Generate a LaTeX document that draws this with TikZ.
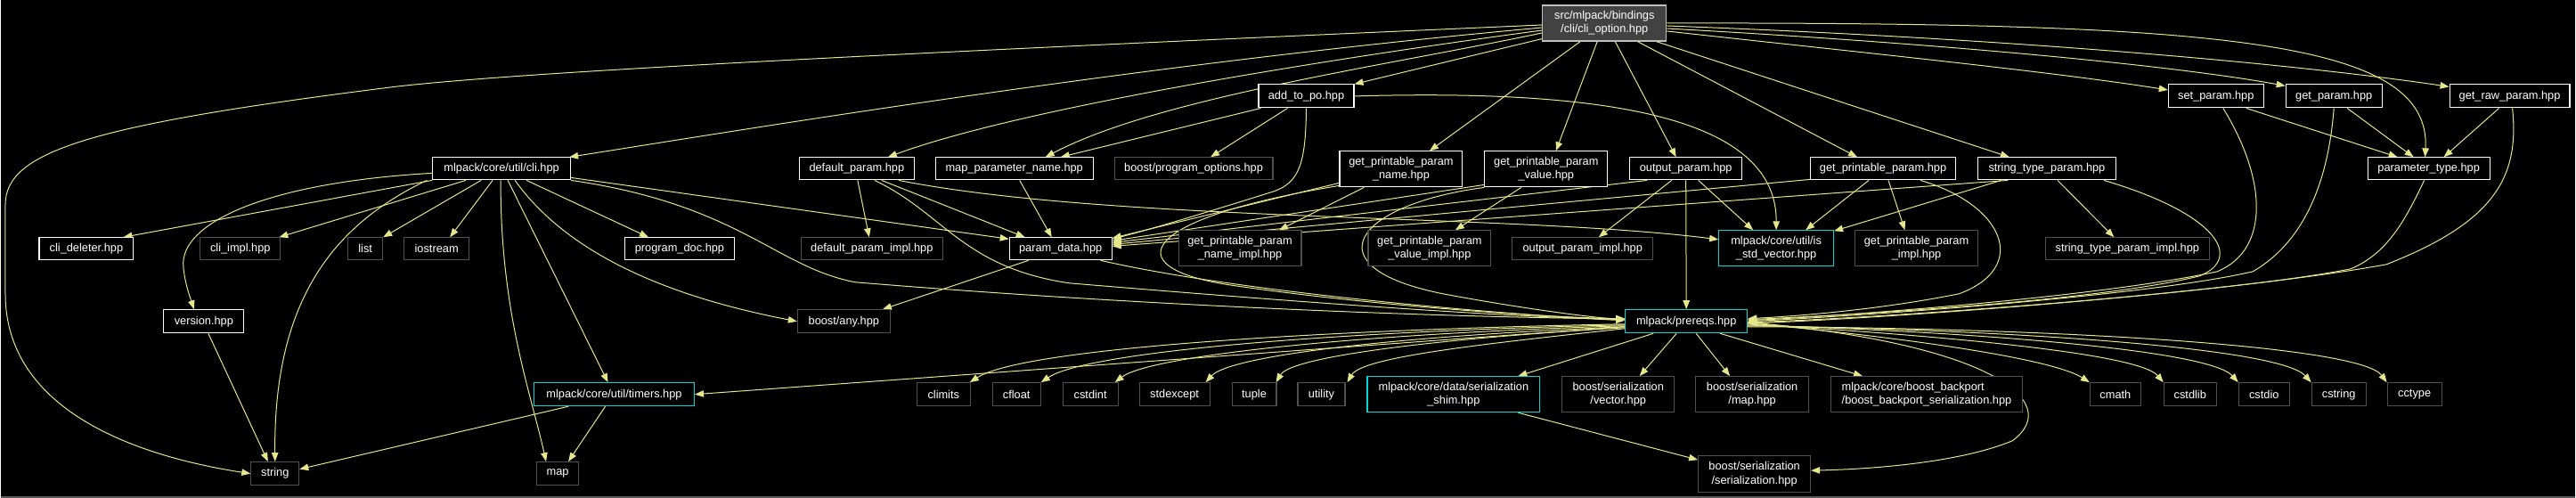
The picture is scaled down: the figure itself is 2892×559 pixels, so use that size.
\documentclass[tikz,border=0pt]{standalone}
\usepackage{fontspec}
\setmainfont{Liberation Sans}
\usetikzlibrary{arrows.meta,calc}
\definecolor{edgec}{RGB}{230,230,140}
\definecolor{extg}{RGB}{80,80,80}
\definecolor{rootf}{RGB}{66,66,66}
\definecolor{rootb}{RGB}{191,191,191}
\definecolor{cyanb}{RGB}{0,215,215}
\definecolor{frameg}{RGB}{90,90,90}
\pgfdeclarelayer{back}
\pgfdeclarelayer{bg}
\pgfsetlayers{back,bg,main}
\begin{document}
\begin{tikzpicture}[x=1pt,y=-1pt,
  base/.style={rectangle, fill=black, text=white, inner sep=0pt, line width=1.1pt, align=center, font=\fontsize{12.8}{15.3}\selectfont},
  doc/.style={base, draw=white},
  ext/.style={base, draw=extg},
  cyn/.style={base, draw=cyanb},
  root/.style={base, draw=rootb, fill=rootf},
  sz/.style 2 args={minimum width=#1, minimum height=#2},
  e/.style={draw=edgec, line width=1pt, -{Triangle[length=10pt,width=7.5pt]}},
]
\begin{pgfonlayer}{back}
\fill[black] (0,0) rectangle (2892,559);
\draw[frameg, line width=2pt] (0,558) -- (2892,558);
\end{pgfonlayer}
\useasboundingbox (0,0) rectangle (2892,559);

% row 1
\node[root, sz={139}{40}] (co) at (1801.5,26) {src/mlpack/bindings\\/cli/cli\_option.hpp};
\node[doc, sz={107}{26}] (atp) at (1466.5,108) {add\_to\_po.hpp};
\node[doc, sz={107}{26}] (sp) at (2488.5,108) {set\_param.hpp};
\node[doc, sz={108}{26}] (gp) at (2621,108) {get\_param.hpp};
\node[doc, sz={135}{26}] (grp) at (2818.5,108) {get\_raw\_param.hpp};
% row 2
\node[doc, sz={155}{25}] (cli) at (562.5,189.5) {mlpack/core/util/cli.hpp};
\node[doc, sz={129}{25}] (dp) at (961.5,189.5) {default\_param.hpp};
\node[doc, sz={177}{25}] (mpn) at (1138.5,189.5) {map\_parameter\_name.hpp};
\node[ext, sz={178}{25}] (bpo) at (1340,189.5) {boost/program\_options.hpp};
\node[doc, sz={138}{40}] (gppn) at (1573,190) {get\_printable\_param\\\_name.hpp};
\node[doc, sz={138}{40}] (gppv) at (1736,190) {get\_printable\_param\\\_value.hpp};
\node[doc, sz={126}{25}] (op) at (1893,189.5) {output\_param.hpp};
\node[doc, sz={163}{25}] (gpp) at (2114.5,189.5) {get\_printable\_param.hpp};
\node[doc, sz={155}{25}] (stp) at (2298.5,189.5) {string\_type\_param.hpp};
\node[doc, sz={137}{25}] (ptype) at (2727.5,189.5) {parameter\_type.hpp};
% row 3
\node[doc, sz={106}{25}] (cld) at (96,279.5) {cli\_deleter.hpp};
\node[ext, sz={90}{25}] (clim) at (269,279.5) {cli\_impl.hpp};
\node[ext, sz={39}{25}] (lst) at (409.5,279.5) {list};
\node[ext, sz={73}{25}] (ios) at (489.5,279.5) {iostream};
\node[doc, sz={123}{25}] (pdoc) at (762.5,279.5) {program\_doc.hpp};
\node[ext, sz={159}{25}] (dpi) at (978.5,279.5) {default\_param\_impl.hpp};
\node[doc, sz={115}{25}] (pd) at (1190.5,279.5) {param\_data.hpp};
\node[ext, sz={138}{40}] (gppni) at (1392,279) {get\_printable\_param\\\_name\_impl.hpp};
\node[ext, sz={138}{40}] (gppvi) at (1605,279) {get\_printable\_param\\\_value\_impl.hpp};
\node[ext, sz={158}{25}] (opi) at (1777,279.5) {output\_param\_impl.hpp};
\node[cyn, sz={129}{40}] (isv) at (1994.5,279) {mlpack/core/util/is\\\_std\_vector.hpp};
\node[ext, sz={138}{40}] (gppi) at (2152,279) {get\_printable\_param\\\_impl.hpp};
\node[ext, sz={184}{25}] (stpi) at (2389,279.5) {string\_type\_param\_impl.hpp};
% row 4
\node[doc, sz={90}{26}] (ver) at (228,361) {version.hpp};
\node[ext, sz={104}{26}] (any) at (947,361) {boost/any.hpp};
\node[cyn, sz={137}{26}] (pre) at (1893.5,361) {mlpack/prereqs.hpp};
% row 5
\node[cyn, sz={180}{26}] (tim) at (689,443) {mlpack/core/util/timers.hpp};
\node[ext, sz={60}{26}] (climits) at (1059,443) {climits};
\node[ext, sz={54}{26}] (cfloat) at (1141,443) {cfloat};
\node[ext, sz={62}{26}] (cstdint) at (1224,443) {cstdint};
\node[ext, sz={79}{26}] (stdexc) at (1318.5,443) {stdexcept};
\node[ext, sz={50}{26}] (tpl) at (1408,443) {tuple};
\node[ext, sz={53}{26}] (util) at (1483.5,443) {utility};
\node[cyn, sz={194}{40}] (shim) at (1632,443) {mlpack/core/data/serialization\\\_shim.hpp};
\node[ext, sz={126}{40}] (bsv) at (1817,443) {boost/serialization\\/vector.hpp};
\node[ext, sz={127}{40}] (bsm) at (1967.5,443) {boost/serialization\\/map.hpp};
\node[ext, sz={215}{40}, align=left] (bp) at (2163.5,443) {mlpack/core/boost\_backport\\/boost\_backport\_serialization.hpp};
\node[ext, sz={57}{26}] (cmath) at (2375.5,443) {cmath};
\node[ext, sz={59}{26}] (cstdlib) at (2459.5,443) {cstdlib};
\node[ext, sz={57}{26}] (cstdio) at (2542.5,443) {cstdio};
\node[ext, sz={61}{26}] (cstring) at (2626.5,443) {cstring};
\node[ext, sz={61}{26}] (cctype) at (2711.5,443) {cctype};
% row 6
\node[ext, sz={54}{26}] (str) at (308,532) {string};
\node[ext, sz={47}{26}] (mapn) at (625.5,532) {map};
\node[ext, sz={126}{41}] (bss) at (1970,532.5) {boost/serialization\\/serialization.hpp};

\begin{pgfonlayer}{bg}
% from cli_option
\draw[e] ($(co.west)+(0,2)$) .. controls (1000,60) and (600,80) .. (446,97) .. controls (100,140) and (5,170) .. (5,230) -- (5,330) .. controls (5,460) and (150,512) .. (str.west);
\draw[e] ($(co.west)+(0,5)$) .. controls (1300,70) and (900,135) .. ($(cli.north east)+(-2,0)$);
\draw[e] ($(co.west)+(0,8)$) .. controls (1500,65) and (1150,120) .. ($(dp.north)+(35,0)$);
\draw[e] ($(co.west)+(0,11)$) .. controls (1550,75) and (1300,110) .. ($(mpn.north)+(35,0)$);
\draw[e] ($(co.south west)+(0,-3)$) -- (atp.north east);
\draw[e] ($(co.south)+(-27,0)$) -- ($(gppn.north)+(32,0)$);
\draw[e] ($(co.south)+(-8,0)$) -- ($(gppv.north)+(11,0)$);
\draw[e] ($(co.south)+(12,0)$) -- ($(op.north)+(-11,0)$);
\draw[e] ($(co.south)+(37,0)$) -- ($(gpp.north)+(-29,0)$);
\draw[e] ($(co.south east)+(-12,0)$) -- ($(stp.north)+(-42,0)$);
\draw[e] ($(co.east)+(0,9)$) .. controls (2100,60) and (2300,80) .. ($(sp.west)+(0,-7)$);
\draw[e] ($(co.east)+(0,6)$) .. controls (2200,50) and (2450,75) .. ($(gp.north west)+(0,2)$);
\draw[e] ($(co.east)+(0,3)$) .. controls (2300,45) and (2600,75) .. ($(grp.north west)+(0,3)$);
\draw[e] (co.east) .. controls (2500,25) and (2730,45) .. ($(ptype.north)+(-4,0)$);
% from add_to_po
\draw[e] ($(atp.south west)+(3,0)$) -- ($(mpn.north)+(52,0)$);
\draw[e] ($(atp.south)+(-21,0)$) -- ($(bpo.north)+(19,0)$);
\draw[e] (atp.south) .. controls (1466,185) and (1458,205) .. (1430,215) .. controls (1350,240) and (1290,258) .. ($(pd.east)+(0,-11)$);
\draw[e] (atp.east) .. controls (1800,100) and (1995,130) .. (isv.north);
% from cli
\draw[e] (cli.south west) -- ($(cld.north east)+(-12,0)$);
\draw[e] ($(cli.south west)+(38,0)$) -- ($(clim.north east)+(-2,0)$);
\draw[e] ($(cli.south)+(-23,0)$) -- (lst.north east);
\draw[e] ($(cli.south)+(-10,0)$) -- ($(ios.north)+(15,0)$);
\draw[e] ($(cli.south)+(28,0)$) -- ($(pdoc.north)+(-35,0)$);
\draw[e] ($(cli.west)+(0,5)$) .. controls (300,205) and (200,250) .. (205,300) .. controls (207,320) and (213,335) .. ($(ver.north)+(-11,0)$);
\draw[e] ($(cli.south west)+(-6,0)$) .. controls (380,250) and (306,330) .. (str.north);
\draw[e] ($(cli.south)+(-1,0)$) .. controls (561,350) and (595,440) .. ($(mapn.north)+(-13,0)$);
\draw[e] ($(cli.south)+(7,0)$) -- ($(tim.north)+(-7,0)$);
\draw[e] ($(cli.south)+(15,0)$) .. controls (640,290) and (760,335) .. (any.west);
\draw[e] ($(cli.south east)+(0,-3)$) -- ($(pd.north west)+(0,2)$);
\draw[e] (cli.south east) .. controls (830,230) and (870,300) .. (960,317) .. controls (1300,345) and (1650,357) .. ($(pre.west)+(0,-3)$);
% from default_param
\draw[e] ($(dp.south)+(1,0)$) -- ($(dpi.north)+(-3,0)$);
\draw[e] ($(dp.south)+(28,0)$) -- ($(pd.north west)+(18,0)$);
\draw[e] ($(dp.south)+(20,0)$) .. controls (1060,240) and (1080,300) .. (1200,318) .. controls (1500,343) and (1700,356) .. ($(pre.west)+(0,-2)$);
\draw[e] ($(dp.south east)+(-18,0)$) .. controls (1250,250) and (1700,240) .. ($(isv.west)+(0,-10)$);
% map_parameter_name, param_data
\draw[e] ($(mpn.south)+(6,0)$) -- ($(pd.north)+(-10,0)$);
\draw[e] ($(pd.south west)+(22,0)$) -- ($(any.north east)+(-9,0)$);
\draw[e] ($(pd.south east)+(-13,0)$) .. controls (1400,330) and (1700,354) .. ($(pre.west)+(0,-1)$);
% get_printable_param_name / value
\draw[e] ($(gppn.south west)+(0,-5)$) -- ($(pd.east)+(0,-12)$);
\draw[e] ($(gppn.south west)+(28,0)$) -- ($(gppni.north)+(44,0)$);
\draw[e] ($(gppn.south west)+(0,-2)$) .. controls (1280,245) and (1250,300) .. (1380,320) .. controls (1550,345) and (1750,357) .. ($(pre.west)+(0,-3)$);
\draw[e] ($(gppv.south west)+(0,-3)$) -- ($(pd.east)+(0,-9)$);
\draw[e] ($(gppv.south)+(-28,0)$) -- ($(gppvi.north)+(29,0)$);
\draw[e] (gppv.south west) .. controls (1520,230) and (1470,300) .. (1620,330) .. controls (1700,345) and (1780,356) .. ($(pre.west)+(0,-2)$);
% output_param
\draw[e] ($(op.south west)+(20,0)$) -- ($(pd.east)+(0,-7)$);
\draw[e] ($(op.south)+(-16,0)$) -- ($(opi.north)+(18,0)$);
\draw[e] ($(op.south)+(14,0)$) -- ($(isv.north)+(-26,0)$);
\draw[e] (op.south) -- (pre.north);
% get_printable_param
\draw[e] ($(gpp.south west)+(0,-1)$) -- ($(pd.east)+(0,-5)$);
\draw[e] ($(gpp.south)+(-16,0)$) -- ($(isv.north east)+(-32,0)$);
\draw[e] ($(gpp.south)+(6,0)$) -- ($(gppi.north)+(-13,0)$);
\draw[e] ($(gpp.south)+(42,0)$) .. controls (2250,230) and (2280,300) .. (2200,330) .. controls (2100,350) and (2000,356) .. ($(pre.east)+(0,-3)$);
% string_type_param
\draw[e] ($(stp.south west)+(34,0)$) -- ($(pd.east)+(0,-3)$);
\draw[e] ($(stp.south west)+(27,0)$) -- ($(isv.north east)+(0,1)$);
\draw[e] ($(stp.south)+(12,0)$) -- ($(stpi.north)+(-15,0)$);
\draw[e] ($(stp.south east)+(-14,0)$) .. controls (2490,240) and (2520,290) .. (2470,310) .. controls (2350,340) and (2050,355) .. ($(pre.east)+(0,-2)$);
% set/get/raw/parameter_type
\draw[e] ($(sp.south)+(34,0)$) -- ($(ptype.north)+(-35,0)$);
\draw[e] ($(sp.south)+(8,0)$) .. controls (2545,200) and (2550,280) .. (2490,305) .. controls (2350,335) and (2050,356) .. ($(pre.east)+(0,-1)$);
\draw[e] ($(gp.south)+(15,0)$) -- ($(ptype.north)+(-17,0)$);
\draw[e] (gp.south) .. controls (2615,200) and (2590,270) .. (2530,305) .. controls (2400,335) and (2050,357) .. (pre.east);
\draw[e] ($(grp.south)+(-12,0)$) -- ($(ptype.north)+(17,0)$);
\draw[e] ($(grp.south)+(3,0)$) .. controls (2830,200) and (2800,250) .. (2680,297) .. controls (2500,330) and (2100,359) .. ($(pre.east)+(0,2)$);
\draw[e] ($(ptype.south)+(-5,0)$) .. controls (2700,250) and (2680,285) .. (2640,302) .. controls (2500,330) and (2100,358) .. ($(pre.east)+(0,1)$);
% from prereqs
\draw[e] ($(pre.west)+(0,6)$) -- (tim.east);
\draw[e] ($(pre.west)+(0,3)$) .. controls (1500,370) and (1150,390) .. ($(climits.north east)+(-1,0)$);
\draw[e] ($(pre.west)+(0,4)$) .. controls (1500,372) and (1220,395) .. (cfloat.north east);
\draw[e] ($(pre.west)+(0,5)$) .. controls (1520,375) and (1290,400) .. ($(cstdint.north east)+(-4,0)$);
\draw[e] ($(pre.west)+(0,6)$) .. controls (1560,378) and (1380,400) .. ($(stdexc.north east)+(-5,0)$);
\draw[e] ($(pre.west)+(0,7)$) .. controls (1620,380) and (1450,400) .. ($(tpl.north east)+(-1,0)$);
\draw[e] ($(pre.west)+(0,8)$) .. controls (1680,385) and (1530,400) .. ($(util.north east)+(2,0)$);
\draw[e] ($(pre.south west)+(32,0)$) -- ($(shim.north east)+(-25,0)$);
\draw[e] ($(pre.south)+(-11,0)$) -- ($(bsv.north)+(24,0)$);
\draw[e] ($(pre.south)+(11,0)$) -- ($(bsm.north)+(-25,0)$);
\draw[e] ($(pre.south)+(38,0)$) -- ($(bp.north)+(-72,0)$);
\draw[e] ($(pre.east)+(0,2)$) .. controls (2100,375) and (2300,400) .. (cmath.north west);
\draw[e] ($(pre.east)+(0,3)$) .. controls (2150,375) and (2400,395) .. (cstdlib.north west);
\draw[e] ($(pre.east)+(0,4)$) .. controls (2200,372) and (2480,392) .. (cstdio.north west);
\draw[e] ($(pre.east)+(0,5)$) .. controls (2250,370) and (2560,390) .. (cstring.north west);
\draw[e] ($(pre.east)+(0,6)$) .. controls (2300,368) and (2650,388) .. (cctype.north west);
\draw[e] ($(pre.east)+(0,1)$) .. controls (2230,385) and (2320,450) .. (2260,495) .. controls (2200,520) and (2100,527) .. ($(bss.east)+(0,-4)$);
\draw[e] ($(shim.south east)+(-25,0)$) -- ($(bss.west)+(0,-16)$);
% timers, version
\draw[e] ($(tim.south west)+(39,0)$) -- ($(str.east)+(0,-5)$);
\draw[e] ($(tim.south)+(-10,0)$) -- ($(mapn.north)+(12,0)$);
\draw[e] ($(ver.south)+(5,0)$) -- ($(str.north)+(-8,0)$);
\end{pgfonlayer}
\end{tikzpicture}
\end{document}
